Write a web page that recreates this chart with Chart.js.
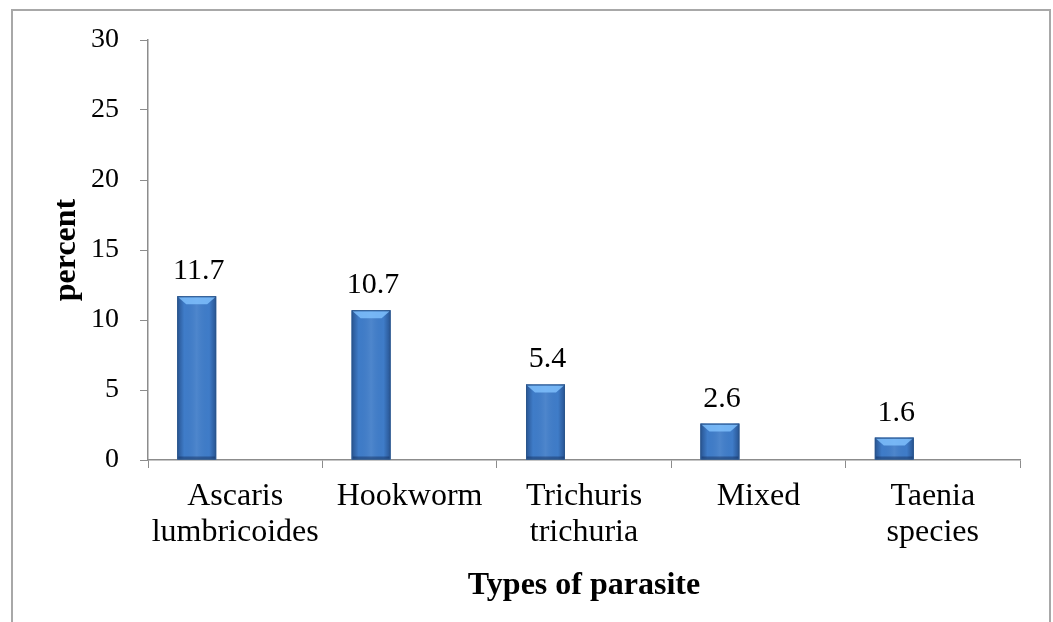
<!DOCTYPE html>
<html>
<head>
<meta charset="utf-8">
<script src="https://cdn.jsdelivr.net/npm/chart.js@4.4.1/dist/chart.umd.min.js"></script>
<style>
  body { margin: 0; background: #fff; }
  canvas { display: block; }
</style>
</head>
<body>
<canvas id="chart" width="1053" height="622"></canvas>
<script>
// data
const categories = [['Ascaris', 'lumbricoides'], 'Hookworm', ['Trichuris', 'trichuria'], 'Mixed', ['Taenia', 'species']];
const percentValues = [11.7, 10.7, 5.4, 2.6, 1.6];
const emptySeries = [null, null, null, null, null];
const yTicks = [0, 5, 10, 15, 20, 25, 30];

const serif = 'Liberation Serif';
const axisGray = '#8c8c8c';

// outer frame
const framePlugin = {
    id: 'frame',
    beforeDraw(chart) {
        const ctx = chart.ctx;
        ctx.save();
        ctx.fillStyle = '#fff';
        ctx.fillRect(0, 0, chart.width, chart.height);
        ctx.strokeStyle = '#a8a8a8';
        ctx.lineWidth = 2;
        ctx.strokeRect(12, 10, 1038, 700);
        ctx.restore();
    }
};

// bevel shading on top of each bar + value labels
const barLook = {
    id: 'barLook',
    afterDatasetsDraw(chart) {
        const ctx = chart.ctx;
        const meta = chart.getDatasetMeta(0);
        meta.data.forEach((bar, i) => {
            const w = bar.width;
            const left = bar.x - w / 2;
            const top = bar.y;
            const bottom = bar.base;
            const h = bottom - top;
            ctx.save();
            let g = ctx.createLinearGradient(left, 0, left + w, 0);
            g.addColorStop(0, 'rgba(20,50,100,0.55)');
            g.addColorStop(0.18, 'rgba(20,50,100,0.0)');
            g.addColorStop(0.5, 'rgba(255,255,255,0.08)');
            g.addColorStop(0.82, 'rgba(20,50,100,0.0)');
            g.addColorStop(1, 'rgba(20,50,100,0.55)');
            ctx.fillStyle = g;
            ctx.fillRect(left, top, w, h);
            // top bevel
            const bev = Math.min(8, h / 2);
            ctx.beginPath();
            ctx.moveTo(left + 1, top + 1);
            ctx.lineTo(left + w - 1, top + 1);
            ctx.lineTo(left + w - 9, top + bev);
            ctx.lineTo(left + 9, top + bev);
            ctx.closePath();
            ctx.fillStyle = 'rgba(130,195,255,0.8)';
            ctx.fill();
            // bottom bevel
            ctx.fillStyle = 'rgba(20,45,90,0.45)';
            ctx.fillRect(left + 1, bottom - 3, w - 2, 3);
            ctx.strokeStyle = '#2b568c';
            ctx.lineWidth = 1;
            ctx.strokeRect(left + 0.5, top + 0.5, w - 1, h - 1);
            ctx.restore();

            ctx.save();
            ctx.fillStyle = '#000';
            ctx.font = '30px "' + serif + '"';
            ctx.textAlign = 'center';
            ctx.textBaseline = 'alphabetic';
            ctx.fillText(percentValues[i].toFixed(1), bar.x + 2, top - 17);
            ctx.restore();
        });
    }
};

new Chart(document.getElementById('chart'), {
    type: 'bar',
    data: {
        labels: categories,
        datasets: [{
            label: 'percent',
            data: percentValues,
            backgroundColor: '#3f7cc8',
            borderWidth: 0,
            categoryPercentage: 0.883,
            barPercentage: 0.506
        }, {
            label: 'empty',
            data: emptySeries,
            backgroundColor: 'transparent',
            categoryPercentage: 0.883,
            barPercentage: 0.506
        }]
    },
    options: {
        responsive: false,
        animation: false,
        events: [],
        layout: { padding: { top: 40, right: 33, left: 0, bottom: 0 } },
        plugins: {
            legend: { display: false },
            tooltip: { enabled: false }
        },
        scales: {
            x: {
                afterFit: function(scale) { scale.height = 162; },
                grid: { drawOnChartArea: false, drawTicks: true, tickLength: 8, color: axisGray, offset: true },
                border: { color: axisGray, width: 1.5 },
                ticks: {
                    color: '#000',
                    font: { family: serif, size: 32, lineHeight: 1.12 },
                    padding: 11,
                    maxRotation: 0,
                    autoSkip: false
                },
                title: {
                    display: true,
                    text: 'Types of parasite',
                    color: '#000',
                    font: { family: serif, size: 32, weight: 'bold' },
                    padding: { top: 0, bottom: 17 }
                }
            },
            y: {
                min: 0,
                max: 30,
                afterFit: function(scale) { scale.width = 148; },
                afterBuildTicks: function(scale) {
                    scale.ticks = yTicks.map(v => ({ value: v }));
                },
                grid: { drawOnChartArea: false, drawTicks: true, tickLength: 8, color: axisGray },
                border: { color: axisGray, width: 1.5 },
                ticks: {
                    color: '#000',
                    font: { family: serif, size: 28 },
                    padding: 21
                },
                title: {
                    display: true,
                    text: 'percent',
                    color: '#000',
                    font: { family: serif, size: 32, weight: 'bold' },
                    padding: { top: 48, bottom: 0 }
                }
            }
        }
    },
    plugins: [framePlugin, barLook]
});
</script>
</body>
</html>
